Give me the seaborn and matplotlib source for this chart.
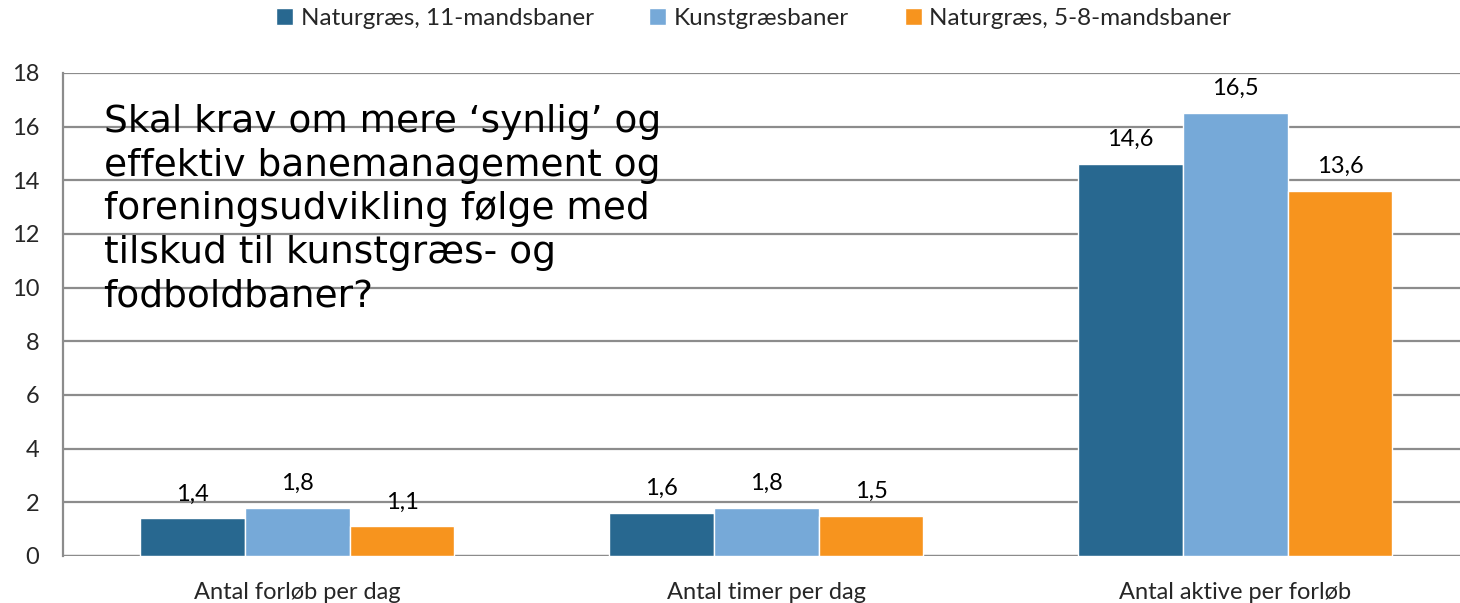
import matplotlib
matplotlib.use("Agg")
import matplotlib.pyplot as plt
import pandas as pd
import seaborn as sns

categories = ["Antal forløb per dag", "Antal timer per dag", "Antal aktive per forløb"]
series = ["Naturgræs, 11-mandsbaner", "Kunstgræsbaner", "Naturgræs, 5-8-mandsbaner"]
natur_11 = [1.4, 1.6, 14.6]
kunst = [1.8, 1.8, 16.5]
natur_5_8 = [1.1, 1.5, 13.6]
colors = ["#286890", "#76A9D8", "#F7941E"]
overlay = ("Skal krav om mere \u2018synlig\u2019 og\neffektiv banemanagement og\n"
           "foreningsudvikling følge med\ntilskud til kunstgræs- og\nfodboldbaner?")

rows = []
for name, vals in zip(series, [natur_11, kunst, natur_5_8]):
    for cat, v in zip(categories, vals):
        rows.append({"kategori": cat, "serie": name, "værdi": v})
df = pd.DataFrame(rows)

sns.set_style("white")
plt.rcParams["font.family"] = ["Lato", "DejaVu Sans"]

fig = plt.figure(figsize=(14.6, 6.03), dpi=100)
# plot area runs a little past the right edge, as in the original
ax = fig.add_axes([0.043, 0.078, 0.9637, 0.801])

sns.barplot(data=df, x="kategori", y="værdi", hue="serie",
            palette=colors, width=0.67, ax=ax, saturation=1, legend=True)

for container in ax.containers:
    labels = [f"{v:.1f}".replace(".", ",") for v in container.datavalues]
    ax.bar_label(container, labels=labels, padding=10, fontsize=17, color="#000000")

ax.set_ylim(0, 18)
ax.set_yticks(range(0, 19, 2))
ax.set_xlim(-0.5, 2.5)
ax.yaxis.grid(True, color="#8c8c8c", linewidth=1.6)
ax.set_axisbelow(True)
ax.set_xlabel("")
ax.set_ylabel("")
for side in ["top", "right", "bottom"]:
    ax.spines[side].set_visible(False)
ax.spines["left"].set_color("#8c8c8c")
ax.spines["left"].set_linewidth(1.6)
ax.tick_params(axis="y", length=7, width=1.6, color="#8c8c8c", labelsize=17, pad=10)
ax.tick_params(axis="x", length=0, labelsize=17, pad=19)

# category separator ticks below the axis
ax.set_xticks([-0.5, 0.5, 1.5, 2.5], minor=True)
ax.tick_params(axis="x", which="minor", length=7, width=1.6, color="#8c8c8c", direction="out")
ax.axhline(0, color="#8c8c8c", linewidth=1.6, zorder=0)

ax.legend(loc="upper center", bbox_to_anchor=(0.491, 1.18), ncol=3, frameon=False,
          fontsize=17.5, handlelength=0.7, handleheight=0.7, handletextpad=0.3,
          columnspacing=2.3)

ax.text(0.029, 0.935, overlay, transform=ax.transAxes, fontsize=27, va="top", ha="left",
        family="DejaVu Sans", linespacing=1.27, color="#000000")

fig.savefig("out.png", dpi=100)
